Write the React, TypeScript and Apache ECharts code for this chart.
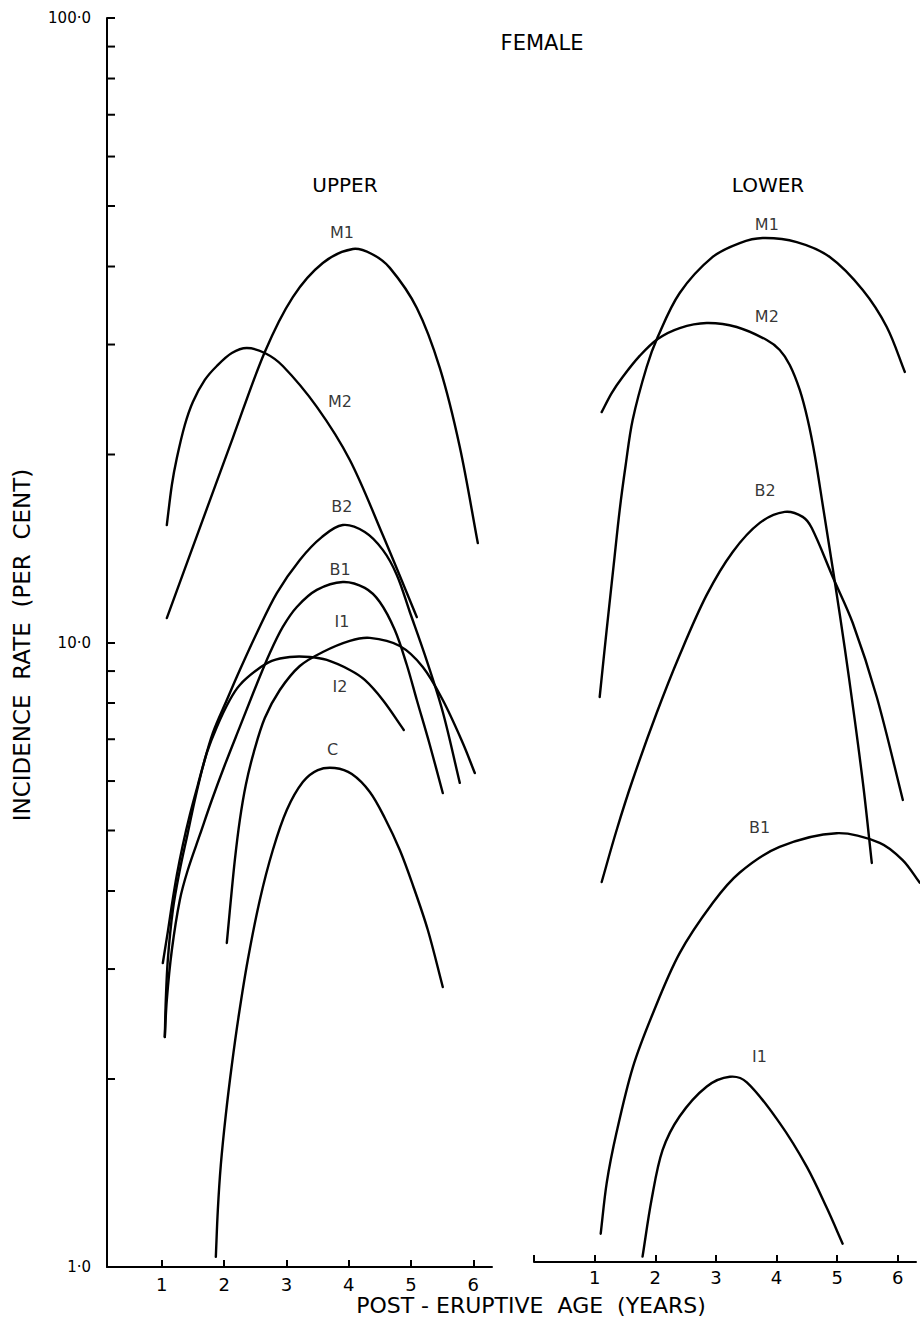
import React, { useEffect, useRef } from "react";
import * as echarts from "echarts";

const FONT = "DejaVu Sans";

// Axis ticks
const X_TICKS = [1, 2, 3, 4, 5, 6];
const Y_MINOR_TICKS = [2, 3, 4, 5, 6, 7, 8, 9, 20, 30, 40, 50, 60, 70, 80, 90];
const X_MIN_UP = 0.12;

// UPPER jaw curves (post-eruptive age in years, incidence rate in per cent)
const M1U_x = [1.08, 1.61, 2.14, 2.653, 3.103, 3.584, 4.066, 4.371, 4.66, 5.093, 5.462, 5.783, 6.072];
const M1U_y = [10.94, 15.26, 21.27, 29.19, 35.74, 40.53, 42.67, 41.89, 39.8, 34.33, 27.52, 20.56, 14.43];
const M2U_x = [1.08, 1.161, 1.241, 1.369, 1.498, 1.69, 1.883, 2.124, 2.364, 2.653, 2.942, 3.488, 4.018, 4.547, 5.093];
const M2U_y = [15.42, 17.87, 19.74, 22.3, 24.28, 26.33, 27.72, 29.08, 29.62, 29.08, 27.72, 23.84, 19.6, 14.86, 10.98];
const B2U_x = [1.048, 1.064, 1.096, 1.177, 1.289, 1.417, 1.53, 1.658, 1.819, 2.043, 2.252, 2.525, 2.846, 3.215, 3.568, 3.905, 4.258, 4.547, 4.772, 4.981, 5.222, 5.51, 5.783];
const B2U_y = [2.335, 2.677, 3.102, 3.73, 4.322, 4.955, 5.595, 6.318, 7.165, 8.089, 9.036, 10.36, 12.0, 13.56, 14.75, 15.42, 15.03, 14.07, 12.83, 11.19, 9.55, 7.74, 5.96];
const B1U_x = [1.048, 1.08, 1.161, 1.289, 1.417, 1.61, 1.803, 2.011, 2.252, 2.525, 2.734, 2.942, 3.167, 3.488, 3.905, 4.258, 4.499, 4.74, 4.933, 5.093, 5.302, 5.51];
const B1U_y = [2.335, 2.677, 3.218, 3.87, 4.322, 4.918, 5.595, 6.365, 7.325, 8.58, 9.621, 10.59, 11.4, 12.14, 12.5, 12.23, 11.61, 10.47, 9.204, 8.089, 6.854, 5.741];
const I1U_x = [2.043, 2.108, 2.172, 2.252, 2.348, 2.477, 2.653, 2.894, 3.215, 3.584, 4.018, 4.339, 4.82, 5.189, 5.51, 5.831, 6.024];
const I1U_y = [3.303, 3.87, 4.484, 5.196, 5.913, 6.677, 7.569, 8.393, 9.17, 9.656, 10.06, 10.17, 9.872, 9.138, 8.089, 6.905, 6.18];
const I2U_x = [1.016, 1.096, 1.161, 1.241, 1.337, 1.449, 1.578, 1.722, 1.883, 2.091, 2.252, 2.525, 2.766, 3.055, 3.376, 3.648, 4.018, 4.258, 4.547, 4.884];
const I2U_y = [3.067, 3.44, 3.799, 4.243, 4.74, 5.294, 5.913, 6.655, 7.325, 8.089, 8.551, 9.036, 9.342, 9.48, 9.48, 9.376, 9.036, 8.71, 8.089, 7.244];
const CU_x = [1.867, 1.899, 1.947, 2.027, 2.124, 2.236, 2.38, 2.573, 2.782, 3.006, 3.263, 3.504, 3.777, 4.05, 4.339, 4.579, 4.82, 5.029, 5.27, 5.51];
const CU_y = [1.038, 1.234, 1.457, 1.752, 2.106, 2.532, 3.102, 3.87, 4.653, 5.393, 5.978, 6.248, 6.295, 6.157, 5.763, 5.236, 4.653, 4.09, 3.464, 2.808];

// LOWER jaw curves
const M1L_x = [1.083, 1.198, 1.314, 1.413, 1.512, 1.627, 1.858, 2.04, 2.403, 2.947, 3.393, 3.772, 4.333, 4.878, 5.422, 5.818, 6.116];
const M1L_y = [8.03, 10.28, 13.06, 16.0, 18.89, 22.3, 27.11, 30.28, 35.62, 40.68, 42.82, 43.62, 42.98, 40.68, 36.02, 31.42, 26.62];
const M2L_x = [1.116, 1.281, 1.462, 1.743, 2.04, 2.403, 2.848, 3.343, 3.838, 4.053, 4.218, 4.383, 4.515, 4.63, 4.762, 4.944, 5.125, 5.29, 5.439, 5.571];
const M2L_y = [22.96, 24.63, 26.13, 28.24, 30.06, 31.3, 31.88, 31.42, 29.95, 28.87, 27.32, 24.91, 22.3, 19.6, 16.3, 12.59, 9.621, 7.379, 5.699, 4.355];
const B2L_x = [1.116, 1.363, 1.627, 2.023, 2.403, 2.848, 3.277, 3.723, 4.135, 4.432, 4.581, 4.927, 5.257, 5.653, 6.083];
const B2L_y = [4.06, 4.918, 5.913, 7.569, 9.376, 11.7, 13.71, 15.26, 15.89, 15.6, 14.97, 12.5, 10.55, 8.03, 5.494];
const B1L_x = [1.1, 1.2, 1.36, 1.63, 1.96, 2.4, 2.95, 3.39, 4.05, 4.99, 5.7, 6.08, 6.36];
const B1L_y = [1.11, 1.34, 1.61, 2.05, 2.5, 3.12, 3.76, 4.2, 4.62, 4.86, 4.69, 4.4, 4.05];
const I1L_x = [1.79, 1.94, 2.12, 2.4, 2.85, 3.23, 3.51, 4.05, 4.5, 4.83, 5.09];
const I1L_y = [1.02, 1.26, 1.51, 1.71, 1.91, 1.98, 1.94, 1.67, 1.42, 1.22, 1.07];

// Curve labels (data coordinates)
const UPPER_LABEL_NAMES = ["M1", "M2", "B2", "B1", "I1", "I2", "C"];
const UPPER_LABEL_X = [3.89, 3.86, 3.89, 3.86, 3.89, 3.86, 3.74];
const UPPER_LABEL_Y = [45.4, 24.3, 16.5, 13.1, 10.8, 8.49, 6.73];
const LOWER_LABEL_NAMES = ["M1", "M2", "B2", "B1", "I1"];
const LOWER_LABEL_X = [3.84, 3.84, 3.81, 3.72, 3.72];
const LOWER_LABEL_Y = [45.8, 32.6, 17.2, 4.97, 2.13];

const zip = (xs: number[], ys: number[]) => xs.map((x, i) => [x, ys[i]]);

// Smooth curve through the points, placed by the axes (api.coord)
function smoothPath(pts: number[][]) {
  const n = pts.length;
  const tangent = (i: number) => {
    const a = pts[Math.max(0, i - 1)];
    const b = pts[Math.min(n - 1, i + 1)];
    const dx = b[0] - a[0];
    const dy = b[1] - a[1];
    const len = Math.hypot(dx, dy) || 1;
    return [dx / len, dy / len];
  };
  let d = `M${pts[0][0].toFixed(2)},${pts[0][1].toFixed(2)}`;
  for (let i = 0; i < n - 1; i++) {
    const p1 = pts[i];
    const p2 = pts[i + 1];
    const seg = Math.hypot(p2[0] - p1[0], p2[1] - p1[1]) / 3;
    const t1 = tangent(i);
    const t2 = tangent(i + 1);
    const c1 = [p1[0] + t1[0] * seg, p1[1] + t1[1] * seg];
    const c2 = [p2[0] - t2[0] * seg, p2[1] - t2[1] * seg];
    d += ` C${c1[0].toFixed(2)},${c1[1].toFixed(2)} ${c2[0].toFixed(2)},${c2[1].toFixed(2)} ${p2[0].toFixed(2)},${p2[1].toFixed(2)}`;
  }
  return d;
}

function curveSeries(name: string, xs: number[], ys: number[], gi: number) {
  return {
    type: "custom",
    name,
    xAxisIndex: gi,
    yAxisIndex: gi,
    silent: true,
    clip: false,
    data: zip(xs, ys),
    renderItem: (params: any, api: any) => {
      if (params.dataIndex !== 0) return null;
      const pts = xs.map((x, i) => api.coord([x, ys[i]]));
      return {
        type: "path",
        shape: { pathData: smoothPath(pts) },
        style: { stroke: "#000", lineWidth: 2.4, fill: "none", lineCap: "round", lineJoin: "round" },
      };
    },
  };
}

function labelSeries(names: string[], xs: number[], ys: number[], gi: number) {
  return {
    type: "scatter",
    xAxisIndex: gi,
    yAxisIndex: gi,
    symbolSize: 1,
    itemStyle: { color: "rgba(0,0,0,0)" },
    silent: true,
    data: names.map((n, i) => ({ name: n, value: [xs[i], ys[i]] })),
    label: {
      show: true,
      position: "inside",
      formatter: "{b}",
      color: "#000",
      fontFamily: FONT,
      fontSize: 16,
    },
  };
}

const intFmt = (v: number) => (Number.isInteger(v) && v > 0 ? String(v) : "");

export default function App() {
  const ref = useRef<HTMLDivElement>(null);
  useEffect(() => {
    if (!ref.current) return;
    const chart = echarts.init(ref.current, null, { renderer: "svg" });
    const axisLine = { show: true, lineStyle: { color: "#000", width: 2 } };
    const txt = (text: string, x: number, y: number, size: number, rotation = 0) => ({
      type: "text",
      x,
      y,
      rotation,
      style: {
        text,
        textAlign: "center",
        textVerticalAlign: "middle",
        align: "center",
        verticalAlign: "middle",
        font: `${size}px "${FONT}"`,
        fill: "#000",
      },
    });
    const option: any = {
      animation: false,
      backgroundColor: "#fff",
      grid: [
        { left: 107, top: 18, width: 385, height: 1249 },
        { left: 534, top: 13, width: 382, height: 1249 },
      ],
      xAxis: [
        {
          gridIndex: 0,
          type: "value",
          min: X_MIN_UP,
          max: 6.3,
          axisLine,
          axisTick: { inside: true, length: 7, customValues: X_TICKS, lineStyle: { color: "#000", width: 2 } },
          axisLabel: { customValues: X_TICKS, formatter: intFmt, color: "#000", fontFamily: FONT, fontSize: 18, margin: 8 },
          splitLine: { show: false },
        },
        {
          gridIndex: 1,
          type: "value",
          min: 0,
          max: 6.3,
          interval: 1,
          axisLine,
          axisTick: { inside: true, length: 7, lineStyle: { color: "#000", width: 2 } },
          axisLabel: { formatter: intFmt, color: "#000", fontFamily: FONT, fontSize: 18, margin: 6, showMaxLabel: false },
          splitLine: { show: false },
        },
      ],
      yAxis: [
        {
          gridIndex: 0,
          type: "log",
          logBase: 10,
          min: 1,
          max: 100,
          axisLine,
          axisTick: { inside: true, length: 8, lineStyle: { color: "#000", width: 2 } },
          axisLabel: {
            color: "#000",
            fontFamily: FONT,
            fontSize: 15,
            margin: 16,
            formatter: (v: number) => v.toFixed(1).replace(".", "·"),
          },
          splitLine: { show: false },
        },
        { gridIndex: 1, type: "log", logBase: 10, min: 1, max: 100, show: false },
      ],
      graphic: [
        txt("FEMALE", 542, 43, 21),
        txt("UPPER", 345, 185, 20),
        txt("LOWER", 768, 185, 20),
        txt("POST - ERUPTIVE  AGE  (YEARS)", 531, 1305, 22),
        txt("INCIDENCE  RATE  (PER  CENT)", 22, 645, 23, Math.PI / 2),
      ],
      series: [
        curveSeries("M1 upper", M1U_x, M1U_y, 0),
        curveSeries("M2 upper", M2U_x, M2U_y, 0),
        curveSeries("B2 upper", B2U_x, B2U_y, 0),
        curveSeries("B1 upper", B1U_x, B1U_y, 0),
        curveSeries("I1 upper", I1U_x, I1U_y, 0),
        curveSeries("I2 upper", I2U_x, I2U_y, 0),
        curveSeries("C upper", CU_x, CU_y, 0),
        curveSeries("M1 lower", M1L_x, M1L_y, 1),
        curveSeries("M2 lower", M2L_x, M2L_y, 1),
        curveSeries("B2 lower", B2L_x, B2L_y, 1),
        curveSeries("B1 lower", B1L_x, B1L_y, 1),
        curveSeries("I1 lower", I1L_x, I1L_y, 1),
        labelSeries(UPPER_LABEL_NAMES, UPPER_LABEL_X, UPPER_LABEL_Y, 0),
        labelSeries(LOWER_LABEL_NAMES, LOWER_LABEL_X, LOWER_LABEL_Y, 1),
        {
          type: "custom",
          xAxisIndex: 0,
          yAxisIndex: 0,
          silent: true,
          clip: false,
          data: Y_MINOR_TICKS.map((v) => [X_MIN_UP, v]),
          renderItem: (params: any, api: any) => {
            const p = api.coord([api.value(0), api.value(1)]);
            return {
              type: "line",
              shape: { x1: p[0], y1: p[1], x2: p[0] + 8, y2: p[1] },
              style: { stroke: "#000", lineWidth: 2 },
            };
          },
        },
      ],
    };
    chart.setOption(option);
    return () => chart.dispose();
  }, []);
  return (
    <div
      ref={ref}
      style={{ position: "absolute", left: 0, top: 0, width: 920, height: 1317, background: "#fff" }}
    />
  );
}
